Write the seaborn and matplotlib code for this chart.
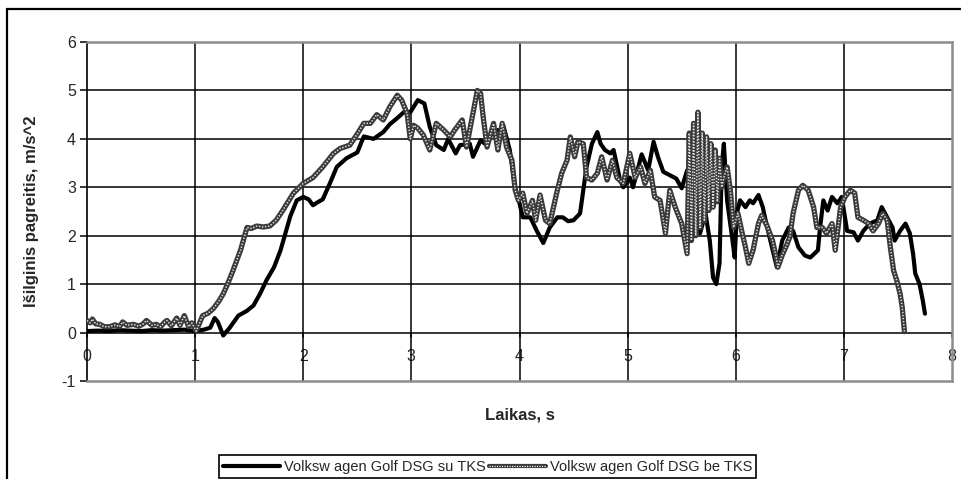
import numpy as np
import pandas as pd
import matplotlib
matplotlib.use("Agg")
import matplotlib.pyplot as plt
from matplotlib.lines import Line2D
from matplotlib.legend_handler import HandlerTuple
import seaborn as sns

# Longitudinal acceleration, Volkswagen Golf DSG with traction control (TKS)
time_su = [0.00, 0.10, 0.20, 0.30, 0.40, 0.50, 0.60, 0.70, 0.80, 0.90, 1.00, 1.08, 1.14, 1.18, 1.21,
           1.26, 1.32, 1.40, 1.48, 1.54, 1.60, 1.66, 1.73, 1.79, 1.88, 1.94, 2.00, 2.05, 2.09, 2.14,
           2.18, 2.25, 2.31, 2.40, 2.50, 2.56, 2.65, 2.74, 2.80, 2.87, 2.93, 2.99, 3.06, 3.12, 3.17,
           3.23, 3.30, 3.34, 3.41, 3.45, 3.54, 3.57, 3.64, 3.68, 3.76, 3.82, 3.85, 3.91, 3.96, 4.00,
           4.03, 4.10, 4.16, 4.22, 4.28, 4.35, 4.40, 4.45, 4.50, 4.56, 4.59, 4.62, 4.67, 4.72, 4.75,
           4.79, 4.84, 4.87, 4.93, 4.96, 5.02, 5.05, 5.13, 5.19, 5.24, 5.28, 5.33, 5.39, 5.45, 5.50,
           5.55, 5.58, 5.61, 5.63, 5.67, 5.72, 5.76, 5.79, 5.82, 5.85, 5.87, 5.89, 5.92, 5.97, 5.99,
           6.01, 6.04, 6.09, 6.13, 6.16, 6.21, 6.25, 6.27, 6.32, 6.38, 6.43, 6.49, 6.53, 6.58, 6.64,
           6.69, 6.76, 6.78, 6.81, 6.85, 6.89, 6.94, 6.98, 7.03, 7.09, 7.13, 7.18, 7.24, 7.31, 7.35,
           7.40, 7.45, 7.47, 7.52, 7.57, 7.61, 7.64, 7.66, 7.70, 7.73, 7.75]
accel_su = [0.03, 0.04, 0.03, 0.05, 0.04, 0.03, 0.05, 0.04, 0.05, 0.06, 0.03, 0.06, 0.10, 0.30, 0.22,
            -0.06, 0.10, 0.35, 0.45, 0.56, 0.80, 1.08, 1.35, 1.70, 2.40, 2.73, 2.80, 2.75, 2.63, 2.70,
            2.75, 3.10, 3.42, 3.60, 3.72, 4.05, 4.00, 4.14, 4.30, 4.43, 4.55, 4.55, 4.80, 4.73, 4.25,
            3.87, 3.77, 4.00, 3.70, 3.87, 3.90, 3.63, 3.97, 3.90, 4.18, 4.18, 4.28, 3.77, 3.00, 2.67,
            2.38, 2.38, 2.10, 1.85, 2.17, 2.38, 2.38, 2.30, 2.32, 2.46, 2.94, 3.42, 3.90, 4.14, 3.90,
            3.77, 3.70, 3.77, 3.15, 3.00, 3.20, 3.00, 3.68, 3.35, 3.94, 3.63, 3.32, 3.25, 3.18, 2.98,
            3.35, 2.52, 2.10, 2.59, 2.05, 2.46, 1.90, 1.14, 1.00, 1.43, 3.42, 3.90, 2.73, 1.90, 1.55,
            2.46, 2.73, 2.59, 2.73, 2.67, 2.84, 2.59, 2.38, 1.90, 1.35, 1.90, 2.17, 2.10, 1.76, 1.59,
            1.55, 1.70, 2.17, 2.73, 2.52, 2.80, 2.67, 2.80, 2.10, 2.07, 1.90, 2.10, 2.25, 2.32, 2.59,
            2.38, 2.17, 1.90, 2.10, 2.25, 2.05, 1.63, 1.22, 1.00, 0.66, 0.39]

# Longitudinal acceleration, Volkswagen Golf DSG without traction control
time_be = [0.00, 0.03, 0.05, 0.08, 0.12, 0.16, 0.21, 0.26, 0.30, 0.33, 0.37, 0.43, 0.48, 0.52, 0.55,
           0.60, 0.64, 0.68, 0.72, 0.74, 0.78, 0.83, 0.86, 0.90, 0.94, 0.97, 1.01, 1.07, 1.12, 1.17,
           1.22, 1.26, 1.30, 1.35, 1.42, 1.48, 1.52, 1.57, 1.63, 1.69, 1.75, 1.81, 1.86, 1.91, 2.00,
           2.09, 2.18, 2.28, 2.34, 2.43, 2.50, 2.56, 2.62, 2.68, 2.74, 2.80, 2.87, 2.91, 2.96, 2.99,
           3.02, 3.06, 3.11, 3.17, 3.23, 3.30, 3.36, 3.40, 3.47, 3.51, 3.57, 3.61, 3.64, 3.66, 3.70,
           3.76, 3.80, 3.84, 3.88, 3.93, 3.96, 3.99, 4.03, 4.07, 4.12, 4.15, 4.19, 4.24, 4.28, 4.35,
           4.39, 4.44, 4.47, 4.51, 4.54, 4.59, 4.62, 4.67, 4.72, 4.76, 4.81, 4.86, 4.90, 4.96, 5.02,
           5.07, 5.12, 5.16, 5.21, 5.25, 5.30, 5.35, 5.39, 5.44, 5.50, 5.55, 5.57, 5.59, 5.61, 5.63,
           5.65, 5.67, 5.69, 5.71, 5.73, 5.75, 5.77, 5.79, 5.81, 5.83, 5.85, 5.87, 5.89, 5.92, 5.95,
           5.98, 6.02, 6.06, 6.09, 6.12, 6.16, 6.21, 6.24, 6.29, 6.34, 6.37, 6.39, 6.43, 6.47, 6.50,
           6.53, 6.58, 6.62, 6.67, 6.72, 6.75, 6.80, 6.84, 6.89, 6.92, 6.97, 7.01, 7.06, 7.10, 7.13,
           7.18, 7.23, 7.27, 7.32, 7.36, 7.40, 7.43, 7.46, 7.49, 7.52, 7.54, 7.56]
accel_be = [0.25, 0.20, 0.28, 0.18, 0.17, 0.12, 0.12, 0.16, 0.12, 0.22, 0.15, 0.17, 0.13, 0.18, 0.25,
            0.15, 0.17, 0.12, 0.22, 0.25, 0.14, 0.30, 0.15, 0.35, 0.12, 0.20, 0.03, 0.35, 0.40, 0.50,
            0.65, 0.80, 1.00, 1.28, 1.70, 2.17, 2.15, 2.20, 2.18, 2.20, 2.32, 2.52, 2.70, 2.88, 3.08,
            3.20, 3.42, 3.70, 3.80, 3.87, 4.10, 4.32, 4.32, 4.50, 4.39, 4.66, 4.90, 4.80, 4.53, 4.00,
            4.28, 4.22, 4.08, 3.77, 4.32, 4.18, 4.04, 4.18, 4.39, 3.83, 4.53, 5.00, 4.94, 4.53, 3.83,
            4.32, 3.77, 4.32, 3.83, 3.56, 2.94, 2.73, 2.88, 2.46, 2.73, 2.32, 2.84, 2.32, 2.25, 2.94,
            3.29, 3.56, 4.04, 3.63, 3.94, 3.90, 3.20, 3.15, 3.29, 3.63, 3.15, 3.56, 3.20, 3.08, 3.70,
            3.20, 3.42, 3.08, 3.35, 2.80, 2.73, 2.05, 2.94, 2.59, 2.25, 1.63, 4.12, 1.90, 4.32, 2.00,
            4.55, 2.17, 4.12, 2.30, 4.04, 2.52, 3.90, 2.59, 3.77, 2.70, 3.60, 3.00, 3.20, 3.42, 2.94,
            2.17, 2.46, 2.05, 1.76, 1.43, 1.70, 2.25, 2.42, 2.20, 1.90, 1.60, 1.35, 1.60, 1.80, 1.97,
            2.46, 2.94, 3.04, 2.94, 2.59, 2.17, 2.17, 2.05, 2.25, 1.70, 2.59, 2.80, 2.94, 2.88, 2.38,
            2.32, 2.25, 2.10, 2.25, 2.46, 2.32, 1.76, 1.28, 1.07, 0.80, 0.52, 0.02]

label_su = "Volksw agen Golf DSG su TKS"
label_be = "Volksw agen Golf DSG be TKS"
x_title = "Laikas, s"
y_title = "Išilginis pagreitis, m/s^2"
x_ticks = [0, 1, 2, 3, 4, 5, 6, 7, 8]
y_ticks = [-1, 0, 1, 2, 3, 4, 5, 6]

sns.set_style("white")
plt.rcParams["font.family"] = ["Liberation Sans", "DejaVu Sans"]

W, H = 961, 479
fig = plt.figure(figsize=(W / 100, H / 100), dpi=100)
ax = fig.add_axes([87 / W, 1 - 381 / H, (952 - 87) / W, (381 - 42) / H])

df_su = pd.DataFrame({"t": time_su, "a": accel_su})
df_be = pd.DataFrame({"t": time_be, "a": accel_be})

sns.lineplot(data=df_su, x="t", y="a", ax=ax, color="black", lw=3.0,
             estimator=None, sort=False, zorder=4, solid_joinstyle="round")
# textured series: dark body with a white dotted core
sns.lineplot(data=df_be, x="t", y="a", ax=ax, color="#3a3a3a", lw=3.8,
             estimator=None, sort=False, zorder=5, solid_joinstyle="round")
sns.lineplot(data=df_be, x="t", y="a", ax=ax, color="white", lw=1.1,
             estimator=None, sort=False, zorder=6, linestyle=(0, (0.9, 1.1)), alpha=0.85)

ax.set_xlim(0, 8)
ax.set_ylim(-1, 6)

# grid
for yv in [0, 1, 2, 3, 4, 5]:
    ax.axhline(yv, color="black", lw=1.1, zorder=1)
for xv in [1, 2, 3, 4, 5, 6, 7]:
    ax.axvline(xv, color="black", lw=1.1, zorder=1)

# frame
for side in ["top", "right", "bottom"]:
    ax.spines[side].set_color("#8c8c8c")
    ax.spines[side].set_linewidth(1.8)
ax.spines["left"].set_color("black")
ax.spines["left"].set_linewidth(1.2)

ax.set_yticks(y_ticks)
ax.set_yticklabels([str(v) for v in y_ticks], fontsize=11.5)
ax.tick_params(axis="y", direction="out", length=5, width=1.1, color="black", pad=3, left=True)

ax.set_xticks(x_ticks)
ax.set_xticklabels([])
ax.tick_params(axis="x", bottom=False)
# x tick marks and labels sit on the zero line
for xv in x_ticks:
    ax.plot([xv, xv], [0, -0.1], color="black", lw=1.1, zorder=2, clip_on=False)
    ax.text(xv, -0.5, str(xv), ha="center", va="center", fontsize=11.5, zorder=0)

ax.set_xlabel(x_title, fontsize=12, fontweight="bold")
ax.xaxis.set_label_coords(0.5, -0.078)
ax.set_ylabel(y_title, fontsize=12, fontweight="bold")
ax.yaxis.set_label_coords(-0.056, 0.5)

# legend
h_su = Line2D([], [], color="black", lw=3.0)
h_be_body = Line2D([], [], color="#3a3a3a", lw=3.0)
h_be_core = Line2D([], [], color="white", lw=0.9, linestyle=(0, (0.9, 1.1)))
leg = fig.legend([h_su, (h_be_body, h_be_core)], [label_su, label_be],
                 loc="lower center", bbox_to_anchor=(487.5 / W, 1 / H), ncol=2,
                 fontsize=10.5, frameon=True, fancybox=False, framealpha=1,
                 handlelength=3.9, handletextpad=0.25, columnspacing=0.25,
                 borderpad=0.3, borderaxespad=0,
                 handler_map={tuple: HandlerTuple(ndivide=1, pad=0)})
leg.get_frame().set_edgecolor("black")
leg.get_frame().set_linewidth(1.2)

# outer chart border
fig.add_artist(Line2D([7 / W, 7 / W], [-0.1, 1 - 9 / H], transform=fig.transFigure,
                      color="black", lw=1.6))
fig.add_artist(Line2D([7 / W, 1.1], [1 - 9 / H, 1 - 9 / H], transform=fig.transFigure,
                      color="black", lw=1.6))

fig.savefig("out.png", dpi=100)
